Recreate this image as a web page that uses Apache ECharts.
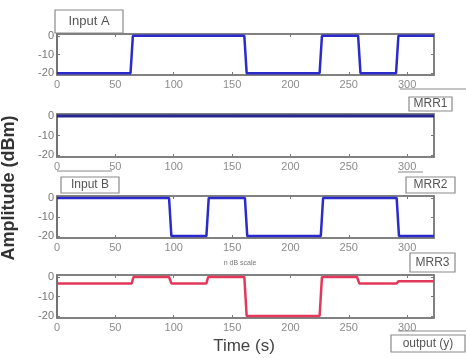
<!DOCTYPE html>
<html>
<head>
<meta charset="utf-8">
<script src="https://cdn.jsdelivr.net/npm/echarts@6/dist/echarts.min.js"></script>
<style>
html,body{margin:0;padding:0;background:#fff;}
#chart{width:466px;height:358px;}
</style>
</head>
<body>
<div id="chart"></div>
<script>
// ---- data ----
const xTicks = [0, 50, 100, 150, 200, 250, 300];
const yTicks = [0, -10, -20];

const timeA = [0, 63, 65, 160.5, 162.5, 225, 227, 258, 260, 290.5, 292.5, 323];
const inputA = [-20, -20, 0, 0, -20, -20, 0, 0, -20, -20, 0, 0];

const timeM1 = [0, 323];
const mrr1 = [0, 0];

const timeB = [0, 96, 98, 128, 130, 161, 163, 226, 228, 291, 293, 323];
const inputB = [0, 0, -20, -20, 0, 0, -20, -20, 0, 0, -20, -20];

const timeM3 = [0, 64, 65.5, 96, 98, 128, 129.5, 160.5, 162.5, 225, 227, 257, 259, 291, 292.5, 323];
const mrr3 = [-3.3, -3.3, 0, 0, -3.3, -3.3, 0, 0, -20, -20, 0, 0, -3.3, -3.3, -2.2, -2.2];

// ---- layout ----
const grids = [
  {top: 34, height: 41},
  {top: 114, height: 43},
  {top: 196, height: 42},
  {top: 275, height: 43}
];
const AX = '#7a7a7a';
const xMin = 0, xMax = 323, yMin = -21, yMax = 1;

const zip = (t, v) => t.map((x, i) => [x, v[i]]);

const option = {
  animation: false,
  backgroundColor: '#fff',
  grid: grids.map(g => ({left: 57, right: 32, top: g.top, height: g.height,
    show: true, borderColor: AX, borderWidth: 1.5, backgroundColor: '#fff'})),
  xAxis: [],
  yAxis: [],
  series: [],
  graphic: []
};

grids.forEach((g, i) => {
  option.xAxis.push({
    type: 'value', gridIndex: i, min: xMin, max: xMax, position: 'bottom',
    axisLine: {show: true, onZero: false, lineStyle: {color: AX, width: 1.5}},
    axisTick: {show: true, inside: true, length: 3, customValues: xTicks, lineStyle: {color: AX}},
    axisLabel: {customValues: xTicks, color: '#8c8c8c', fontSize: 11, margin: 4, fontFamily: 'Liberation Sans'},
    splitLine: {show: false}
  });
  option.xAxis.push({
    type: 'value', gridIndex: i, min: xMin, max: xMax, position: 'top',
    axisLine: {show: true, onZero: false, lineStyle: {color: AX, width: 1.5}},
    axisTick: {show: true, inside: true, length: 3, customValues: xTicks, lineStyle: {color: AX}},
    axisLabel: {show: false}, splitLine: {show: false}
  });
  option.yAxis.push({
    type: 'value', gridIndex: i, min: yMin, max: yMax, position: 'left',
    axisLine: {show: true, onZero: false, lineStyle: {color: '#666', width: 1.5}},
    axisTick: {show: true, inside: true, length: 3, customValues: yTicks, lineStyle: {color: AX}},
    axisLabel: {customValues: yTicks, color: '#777', fontSize: 11, margin: 3, fontFamily: 'Liberation Sans'},
    splitLine: {show: false}
  });
  option.yAxis.push({
    type: 'value', gridIndex: i, min: yMin, max: yMax, position: 'right',
    axisLine: {show: true, onZero: false, lineStyle: {color: AX, width: 1.5}},
    axisTick: {show: true, inside: true, length: 3, customValues: yTicks, lineStyle: {color: AX}},
    axisLabel: {show: false}, splitLine: {show: false}
  });
});

const seriesDefs = [
  {t: timeA, v: inputA, color: '#2b2bcc', w: 2.5},
  {t: timeM1, v: mrr1, color: '#26268f', w: 3},
  {t: timeB, v: inputB, color: '#2b2bcc', w: 2.5},
  {t: timeM3, v: mrr3, color: '#e2385a', w: 2.5}
];
seriesDefs.forEach((s, i) => {
  option.series.push({
    type: 'line', xAxisIndex: i * 2, yAxisIndex: i * 2,
    data: zip(s.t, s.v), showSymbol: false, symbol: 'none',
    lineStyle: {color: s.color, width: s.w}, z: 3
  });
});

function box(text, x, y, w, h, fs) {
  return {
    type: 'group', x: x, y: y, z: 100,
    children: [
      {type: 'rect', shape: {x: 0, y: 0, width: w, height: h},
        style: {fill: '#fff', stroke: '#8a8a8a', lineWidth: 1.2}},
      {type: 'text', style: {text: text, x: w / 2, y: h / 2, align: 'center', verticalAlign: 'middle',
        fill: '#555', font: fs + 'px "Liberation Sans"'}}
    ]
  };
}

option.graphic = [
  box('Input A', 55, 10, 68, 23, 13),
  box('MRR1', 409, 97, 43, 14, 12),
  box('Input B', 61, 177, 58, 16, 12),
  box('MRR2', 406, 177, 49, 16, 12),
  box('MRR3', 410, 253, 45, 19, 12),
  box('output (y)', 391, 335, 74, 17, 12),
  {type: 'line', z: 99, shape: {x1: 400, y1: 89, x2: 466, y2: 89}, style: {stroke: '#888', lineWidth: 1}},
  {type: 'line', z: 99, shape: {x1: 57, y1: 171, x2: 112, y2: 171}, style: {stroke: '#888', lineWidth: 1}},
  {type: 'line', z: 99, shape: {x1: 398, y1: 172, x2: 423, y2: 172}, style: {stroke: '#888', lineWidth: 1}},
  {type: 'line', z: 99, shape: {x1: 398, y1: 331, x2: 466, y2: 331}, style: {stroke: '#888', lineWidth: 1}},
  {type: 'text', z: 100, x: 240, y: 263, style: {text: 'n dB scale', align: 'center', verticalAlign: 'middle',
    fill: '#777', font: '7px "Liberation Sans"'}},
  {type: 'text', z: 100, x: 244, y: 346, style: {text: 'Time (s)', align: 'center', verticalAlign: 'middle',
    fill: '#444', font: '17px "Liberation Sans"'}},
  {type: 'text', z: 100, x: 9, y: 188, rotation: Math.PI / 2,
    style: {text: 'Amplitude (dBm)', align: 'center', verticalAlign: 'middle',
      fill: '#333', font: 'bold 18px "Liberation Sans"'}}
];

const chart = echarts.init(document.getElementById('chart'), null, {renderer: 'canvas'});
chart.setOption(option);
</script>
</body>
</html>
